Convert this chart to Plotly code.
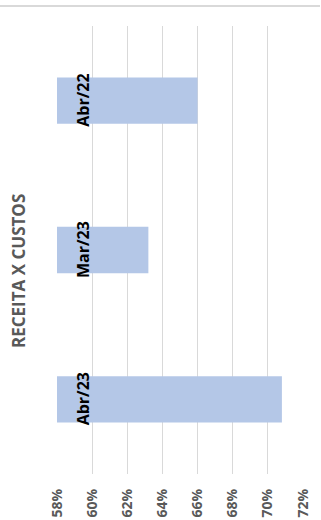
import plotly.graph_objects as go

categories = ["Abr/23", "Mar/23", "Abr/22"]
values = [70.8, 63.2, 66.0]
tick_vals = [58, 60, 62, 64, 66, 68, 70, 72]
tick_text = ["58%", "60%", "62%", "64%", "66%", "68%", "70%", "72%"]
title_text = "RECEITA X CUSTOS"

FONT = "Open Sans"
W, H = 321, 520
ML, MR, MT, MB = 57, 18, 26, 46
pw = W - ML - MR
ph = H - MT - MB

fig = go.Figure()
fig.add_trace(go.Bar(
    x=[v - 58 for v in values],
    base=58,
    y=categories,
    orientation="h",
    marker=dict(color="#B4C7E7", line=dict(width=0)),
    width=0.31,
    hoverinfo="skip",
))

for c in categories:
    fig.add_annotation(
        x=58, y=c, xref="x", yref="y",
        text=f"<b>{c}</b>", textangle=-90, showarrow=False,
        xanchor="left", yanchor="middle", xshift=13,
        font=dict(family=FONT, size=16, color="#000000"),
    )

fig.add_annotation(
    x=(18 - ML) / pw, y=(H - MB - 271) / ph, xref="paper", yref="paper",
    text=f"<b>{title_text}</b>", textangle=-90, showarrow=False,
    xanchor="center", yanchor="middle",
    font=dict(family=FONT, size=17, color="#595959"),
)

fig.add_shape(
    type="line", xref="paper", yref="paper",
    x0=-ML / pw, x1=(320 - ML) / pw,
    y0=(H - MB - 6) / ph, y1=(H - MB - 6) / ph,
    line=dict(color="#D9D9D9", width=2),
)

fig.update_layout(
    width=W, height=H,
    margin=dict(l=ML, r=MR, t=MT, b=MB, autoexpand=False),
    plot_bgcolor="white", paper_bgcolor="white",
    showlegend=False,
    xaxis=dict(
        range=[58, 72], tickvals=tick_vals, ticktext=tick_text,
        tickangle=-90, showgrid=True, gridcolor="#D9D9D9", gridwidth=1,
        zeroline=False, showline=False, ticks="",
        ticklabelstandoff=11, automargin=False,
        tickfont=dict(family=FONT, size=14, color="#595959", weight="bold"),
        fixedrange=True,
    ),
    yaxis=dict(
        categoryorder="array", categoryarray=categories,
        showticklabels=False, showgrid=False, zeroline=False, showline=False,
        ticks="", fixedrange=True, automargin=False,
    ),
)

fig.write_html(
    "out.html",
    config={"displayModeBar": False},
    post_script="document.body.style.margin='0';document.body.style.overflow='hidden';",
)
